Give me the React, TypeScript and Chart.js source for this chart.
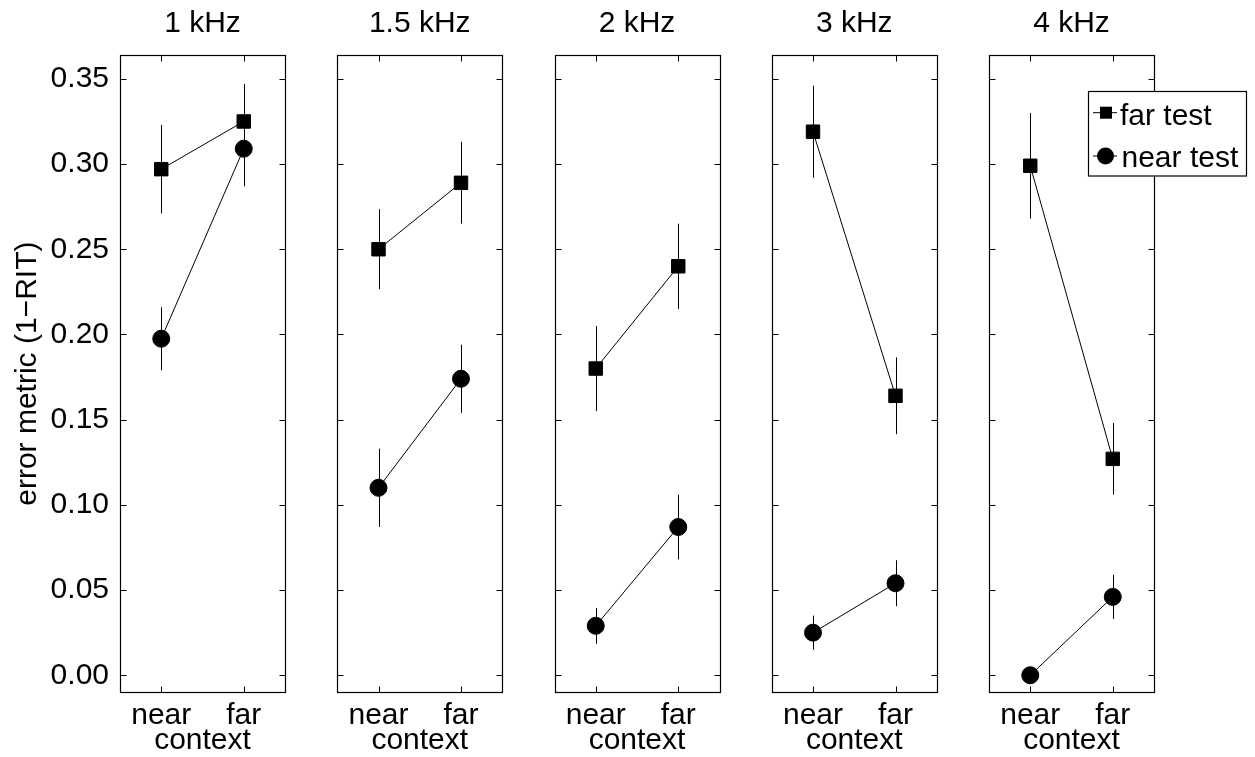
import { useEffect, useRef } from 'react';
import { Chart, registerables } from 'chart.js';

Chart.register(...registerables);

// ---------------- data ----------------
const FREQUENCIES = ['1 kHz', '1.5 kHz', '2 kHz', '3 kHz', '4 kHz'];
const CONTEXTS = ['near', 'far'];
const CONTEXT_X = [1, 2];
const SERIES = ['far test', 'near test'];

const FAR_TEST_MEAN = [
  [0.297, 0.325],
  [0.250, 0.289],
  [0.180, 0.240],
  [0.319, 0.164],
  [0.299, 0.127],
];
const FAR_TEST_ERR = [
  [0.026, 0.022],
  [0.0235, 0.024],
  [0.025, 0.025],
  [0.027, 0.0225],
  [0.031, 0.021],
];
const NEAR_TEST_MEAN = [
  [0.1975, 0.309],
  [0.110, 0.174],
  [0.029, 0.087],
  [0.025, 0.054],
  [0.000, 0.046],
];
const NEAR_TEST_ERR = [
  [0.0185, 0.022],
  [0.023, 0.020],
  [0.0105, 0.019],
  [0.010, 0.0135],
  [0.0, 0.013],
];
const Y_TICKS = [0, 0.05, 0.1, 0.15, 0.2, 0.25, 0.3, 0.35];
const Y_MIN = -0.01;
const Y_MAX = 0.364;

// ---------------- layout ----------------
const CANVAS_W = 1255;
const CANVAS_H = 757;
const PANEL_LEFT0 = 120;
const PANEL_STEP = 217.25;
const PANEL_W = 165;
const PANEL_TOP = 55;
const PANEL_BOTTOM = 692.3;
const FONT = "'Liberation Sans', Arial, Helvetica, sans-serif";
const FS = 30;

const MEANS = [FAR_TEST_MEAN, NEAR_TEST_MEAN];
const ERRS = [FAR_TEST_ERR, NEAR_TEST_ERR];
const STYLES = ['rect', 'circle'];
const RADII = [9.5, 8.5];

function makeFramePlugin(index: number) {
  return {
    id: 'frame' + index,
    beforeDatasetsDraw(chart: any) {
      const { ctx, scales } = chart;
      ctx.save();
      ctx.strokeStyle = '#000';
      ctx.lineWidth = 1;
      for (let d = 0; d < MEANS.length; d++) {
        const means = MEANS[d][index];
        const errs = ERRS[d][index];
        for (let k = 0; k < means.length; k++) {
          if (!errs[k]) continue;
          const x = Math.round(scales.x.getPixelForValue(CONTEXT_X[k])) + 0.5;
          const y1 = scales.y.getPixelForValue(means[k] + errs[k]);
          const y2 = scales.y.getPixelForValue(means[k] - errs[k]);
          ctx.beginPath();
          ctx.moveTo(x, y1);
          ctx.lineTo(x, y2);
          ctx.stroke();
        }
      }
      ctx.restore();
    },
    afterDraw(chart: any) {
      const { ctx, chartArea: a, scales } = chart;
      ctx.save();
      ctx.strokeStyle = '#000';
      ctx.lineWidth = 1.2;
      const l = Math.round(a.left) + 0.5;
      const r = Math.round(a.right) + 0.5;
      const t = Math.round(a.top) + 0.5;
      const b = Math.round(a.bottom) + 0.5;
      ctx.strokeRect(l, t, r - l, b - t);
      ctx.lineWidth = 1;
      const TL = 6;
      ctx.beginPath();
      for (const v of Y_TICKS) {
        const y = Math.round(scales.y.getPixelForValue(v)) + 0.5;
        ctx.moveTo(l, y);
        ctx.lineTo(l + TL, y);
        ctx.moveTo(r, y);
        ctx.lineTo(r - TL, y);
      }
      for (const v of CONTEXT_X) {
        const x = Math.round(scales.x.getPixelForValue(v)) + 0.5;
        ctx.moveTo(x, t);
        ctx.lineTo(x, t + TL);
        ctx.moveTo(x, b);
        ctx.lineTo(x, b - TL);
      }
      ctx.stroke();
      // panel title
      ctx.fillStyle = '#000';
      ctx.font = `${FS}px ${FONT}`;
      ctx.textAlign = 'center';
      ctx.textBaseline = 'alphabetic';
      ctx.fillText(FREQUENCIES[index], (a.left + a.right) / 2, 32);
      ctx.restore();
    },
  };
}

const legendPlugin = {
  id: 'customLegend',
  afterDraw(chart: any) {
    const { ctx } = chart;
    const bx = 1088.5, by = 91.5, bw = 158, bh = 84.5;
    ctx.save();
    ctx.fillStyle = '#fff';
    ctx.fillRect(bx, by, bw, bh);
    ctx.strokeStyle = '#000';
    ctx.lineWidth = 1.2;
    ctx.strokeRect(bx, by, bw, bh);
    const rowsY = [112.7, 156];
    const baseY = [124.5, 166.5];
    chart.data.datasets.forEach((ds: any, i: number) => {
      const y = rowsY[i];
      ctx.strokeStyle = '#000';
      ctx.lineWidth = 1;
      ctx.beginPath();
      ctx.moveTo(1093, y);
      ctx.lineTo(1117, y);
      ctx.stroke();
      ctx.fillStyle = '#000';
      if (ds.pointStyle === 'rect') {
        ctx.fillRect(1100, y - 6, 12, 12);
      } else {
        ctx.beginPath();
        ctx.arc(1105.5, y, 8.5, 0, Math.PI * 2);
        ctx.fill();
      }
      ctx.font = `${FS}px ${FONT}`;
      ctx.textAlign = 'left';
      ctx.textBaseline = 'alphabetic';
      ctx.fillText(ds.label, i === 0 ? 1120 : 1121.5, baseY[i]);
    });
    ctx.restore();
  },
};

function buildConfig(index: number): any {
  const left = PANEL_LEFT0 + PANEL_STEP * index;
  const isFirst = index === 0;
  const datasets = SERIES.map((label, d) => ({
    label,
    data: MEANS[d][index].map((y, k) => ({ x: CONTEXT_X[k], y })),
    borderColor: '#000',
    backgroundColor: '#000',
    pointBackgroundColor: '#000',
    pointBorderColor: '#000',
    borderWidth: 1,
    pointBorderWidth: 1,
    pointStyle: STYLES[d],
    pointRadius: RADII[d],
    tension: 0,
    fill: false,
  }));
  const plugins: any[] = [makeFramePlugin(index)];
  if (index === FREQUENCIES.length - 1) plugins.push(legendPlugin);
  return {
    type: 'line',
    data: { datasets },
    options: {
      responsive: false,
      animation: false,
      events: [],
      layout: {
        padding: {
          left: isFirst ? 0 : left,
          right: CANVAS_W - left - PANEL_W,
          top: PANEL_TOP,
          bottom: 0,
        },
      },
      plugins: {
        legend: { display: false },
        tooltip: { enabled: false },
        title: { display: false },
      },
      scales: {
        x: {
          type: 'linear',
          min: 0.5,
          max: 2.5,
          grid: { display: false, drawTicks: false },
          border: { display: false },
          afterBuildTicks: (s: any) => {
            s.ticks = CONTEXT_X.map((v) => ({ value: v }));
          },
          afterFit: (s: any) => {
            s.height = CANVAS_H - PANEL_BOTTOM;
          },
          ticks: {
            padding: 5,
            maxRotation: 0,
            autoSkip: false,
            color: '#000',
            font: { family: FONT, size: FS },
            callback: (_v: any, i: number) => CONTEXTS[i],
          },
          title: {
            display: true,
            text: 'context',
            color: '#000',
            font: { family: FONT, size: FS, lineHeight: 1.1 },
            padding: 0,
          },
        },
        y: {
          type: 'linear',
          min: Y_MIN,
          max: Y_MAX,
          display: isFirst,
          grid: { display: false, drawTicks: false },
          border: { display: false },
          afterBuildTicks: (s: any) => {
            s.ticks = Y_TICKS.map((v) => ({ value: v }));
          },
          afterFit: (s: any) => {
            s.width = isFirst ? left : 0;
          },
          ticks: {
            padding: 11,
            color: '#000',
            font: { family: FONT, size: FS },
            callback: (v: any) => Number(v).toFixed(2),
          },
          title: {
            display: true,
            text: 'error metric (1\u2212RIT)',
            color: '#000',
            font: { family: FONT, size: FS },
            padding: { top: 10, bottom: 0 },
          },
        },
      },
    },
    plugins,
  };
}

function Panel({ index }: { index: number }) {
  const ref = useRef<HTMLCanvasElement>(null);
  useEffect(() => {
    const chart = new Chart(ref.current as HTMLCanvasElement, buildConfig(index));
    return () => chart.destroy();
  }, [index]);
  return (
    <canvas
      ref={ref}
      width={CANVAS_W}
      height={CANVAS_H}
      style={{ position: 'absolute', left: 0, top: 0, width: CANVAS_W, height: CANVAS_H }}
    />
  );
}

export default function App() {
  return (
    <div
      style={{
        position: 'absolute',
        left: 0,
        top: 0,
        width: CANVAS_W,
        height: CANVAS_H,
        background: '#fff',
        overflow: 'hidden',
      }}
    >
      {FREQUENCIES.map((_, i) => (
        <Panel key={i} index={i} />
      ))}
    </div>
  );
}
